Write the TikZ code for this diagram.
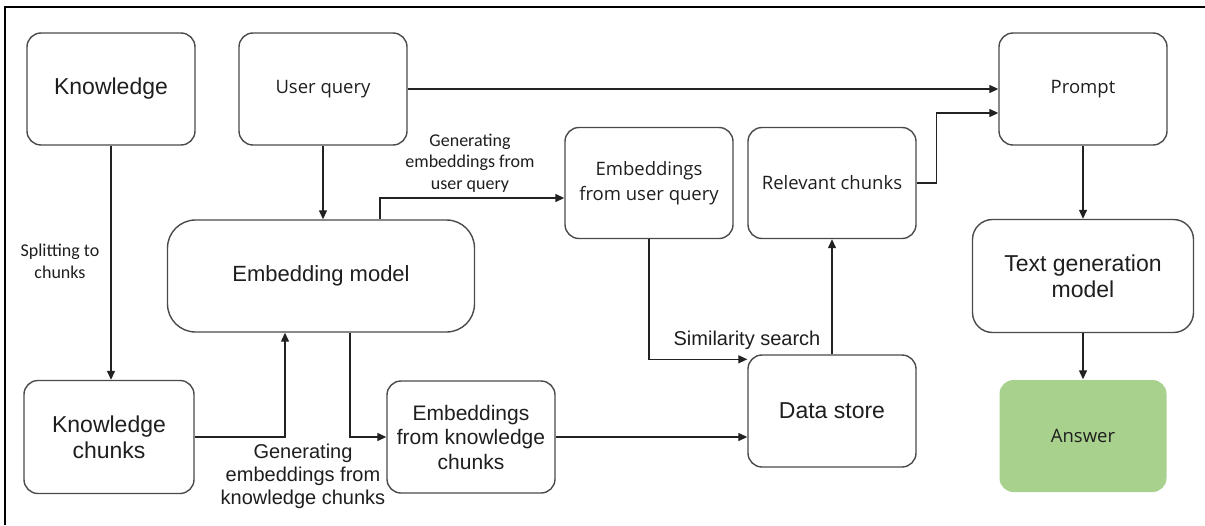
\documentclass[tikz,border=0pt]{standalone}
\usepackage{fontspec}
\setmainfont{Liberation Sans}
\newfontfamily\opensansfont{Open Sans}
\newfontfamily\carlitofont{Carlito}
\usetikzlibrary{arrows.meta,calc}
\definecolor{boxline}{HTML}{4A4A4A}
\definecolor{conn}{HTML}{222222}
\definecolor{txt}{HTML}{1E1E1E}
\definecolor{answergreen}{HTML}{A9D18E}
\tikzset{
  box/.style={draw=boxline, line width=1.4pt, rounded corners=14pt, align=center, text=txt, inner sep=2pt},
  arialbig/.style={font=\fontsize{23}{26}\selectfont},
  arialemb/.style={font=\fontsize{22}{26}\selectfont},
  arialmid/.style={font=\fontsize{21}{24.5}\selectfont},
  osfont/.style={font=\opensansfont\fontsize{18.5}{25}\selectfont},
  lbl/.style={align=center, text=txt, inner sep=0pt},
  conn/.style={draw=conn, line width=1.3pt, -{Triangle[length=9pt,width=8pt]}},
}
\begin{document}
\begin{tikzpicture}[x=1pt,y=-1pt]
\useasboundingbox (0,0) rectangle (1205,525);
% frame (top and left edges)
\draw[line width=2.2pt, black] (5,525) -- (5,7) -- (1205,7);

% nodes
\node[box, arialbig, minimum width=168pt, minimum height=112pt] (know) at (111,89) {Knowledge};
\node[box, osfont, minimum width=168pt, minimum height=112pt] (uq) at (323,89) {User query};
\node[box, osfont, minimum width=168pt, minimum height=112pt] (prompt) at (1083,89) {Prompt};
\node[box, arialemb, rounded corners=28pt, minimum width=307pt, minimum height=112pt] (emb) at (321,276) {Embedding model};
\node[box, osfont, minimum width=168pt, minimum height=111pt] (euq) at (649,183) {Embeddings\\from user query};
\node[box, osfont, minimum width=168pt, minimum height=111pt] (rel) at (832,183) {Relevant chunks};
\node[box, arialbig, rounded corners=20pt, minimum width=221pt, minimum height=113pt] (tgm) at (1083,276) {Text generation\\model};
\node[box, arialbig, minimum width=170pt, minimum height=113pt] (kc) at (109,437) {Knowledge\\chunks};
\node[box, arialmid, minimum width=168pt, minimum height=112pt] (ekc) at (471,437) {Embeddings\\from knowledge\\chunks};
\node[box, arialbig, minimum width=168pt, minimum height=112pt] (ds) at (832,411) {Data store};
\node[box, draw=none, fill=answergreen, osfont, minimum width=167pt, minimum height=112pt] (ans) at (1083,436) {Answer};

% labels
\node[lbl, font=\carlitofont\fontsize{18}{22}\selectfont] (lsplit) at (60,261) {Splitting to\\chunks};
\node[lbl, font=\carlitofont\fontsize{18}{21.5}\selectfont] (lgenuq) at (470,163) {Generating\\embeddings from\\user query};
\node[lbl, font=\fontsize{20}{23}\selectfont] (lgenkc) at (303,476) {Generating\\embeddings from\\knowledge chunks};
\node[lbl, font=\fontsize{20}{24}\selectfont] (lsim) at (747,340) {Similarity search};

% connectors
\draw[conn] (know.south) -- (kc.north -| know.south);
\draw[conn] (uq.south) -- (emb.north -| uq.south);
\draw[conn] (uq.east) -- (uq.east -| prompt.west);
\draw[conn] ([xshift=59pt]emb.north) |- ([yshift=-15pt]euq.west);
\draw[conn] (rel.east) -- ++(20,0) |- ([yshift=-24pt]prompt.west);
\draw[conn] (prompt.south) -- (tgm.north);
\draw[conn] (tgm.south) -- (ans.north);
\draw[conn] (euq.south) |- ([yshift=-5pt]ds.north west);
\draw[conn] (ds.north) -- (rel.south);
\draw[conn] (ekc.east) -- (ekc.east -| ds.west);
\draw[conn] (kc.east) -| ([xshift=-36pt]emb.south);
\draw[conn] ([xshift=29pt]emb.south) |- (ekc.west);
\end{tikzpicture}
\end{document}
